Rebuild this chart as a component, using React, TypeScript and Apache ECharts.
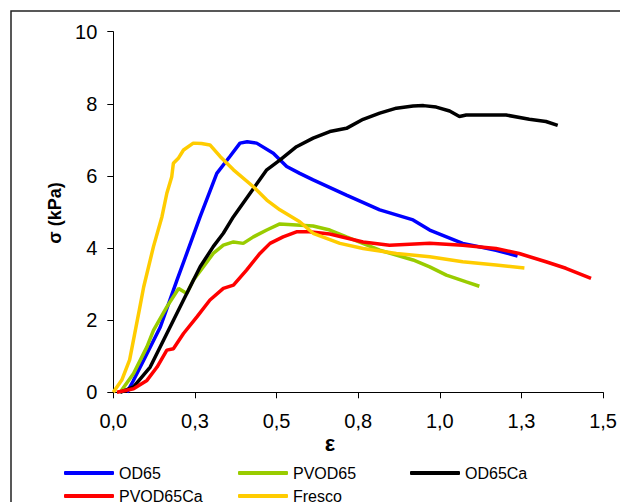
import React, { useEffect, useRef } from "react";
import * as echarts from "echarts";

// Stress–strain curves: strain (ε, dimensionless) vs stress (σ, kPa)
const od65Strain = [0.042, 0.06, 0.093, 0.144, 0.195, 0.225, 0.266, 0.317, 0.357, 0.388, 0.41, 0.439, 0.49, 0.531, 0.571, 0.612, 0.714, 0.816, 0.918, 0.969, 1.07, 1.172, 1.238];
const od65Stress = [0, 0.3, 0.89, 1.81, 3.11, 3.85, 4.87, 6.07, 6.54, 6.91, 6.95, 6.91, 6.63, 6.26, 6.07, 5.89, 5.47, 5.06, 4.78, 4.5, 4.13, 3.94, 3.78];

const pvod65Strain = [0.021, 0.062, 0.103, 0.123, 0.164, 0.2, 0.225, 0.245, 0.276, 0.306, 0.337, 0.368, 0.398, 0.429, 0.47, 0.51, 0.561, 0.612, 0.663, 0.714, 0.816, 0.918, 0.969, 1.02, 1.081, 1.121];
const pvod65Stress = [0, 0.52, 1.26, 1.72, 2.37, 2.88, 2.74, 3.11, 3.48, 3.85, 4.08, 4.17, 4.13, 4.31, 4.5, 4.67, 4.64, 4.61, 4.5, 4.31, 3.94, 3.67, 3.48, 3.25, 3.06, 2.94];

const od65caStrain = [0.021, 0.062, 0.113, 0.164, 0.215, 0.266, 0.306, 0.337, 0.368, 0.419, 0.47, 0.51, 0.561, 0.612, 0.663, 0.714, 0.765, 0.816, 0.867, 0.918, 0.95, 0.989, 1.03, 1.06, 1.081, 1.203, 1.274, 1.325, 1.361];
const od65caStress = [0, 0.15, 0.7, 1.63, 2.56, 3.48, 4.04, 4.41, 4.87, 5.52, 6.17, 6.44, 6.81, 7.05, 7.23, 7.32, 7.57, 7.74, 7.88, 7.94, 7.95, 7.91, 7.8, 7.65, 7.69, 7.69, 7.57, 7.51, 7.4];

const pvod65caStrain = [0.011, 0.062, 0.103, 0.134, 0.164, 0.184, 0.215, 0.256, 0.296, 0.337, 0.368, 0.408, 0.449, 0.48, 0.52, 0.561, 0.6, 0.663, 0.765, 0.846, 0.969, 1.07, 1.172, 1.243, 1.325, 1.386, 1.463];
const pvod65caStress = [0, 0.1, 0.33, 0.7, 1.17, 1.21, 1.63, 2.09, 2.56, 2.88, 2.97, 3.39, 3.85, 4.13, 4.31, 4.45, 4.45, 4.39, 4.17, 4.08, 4.13, 4.08, 3.99, 3.85, 3.62, 3.44, 3.16];

const frescoStrain = [0, 0.026, 0.05, 0.065, 0.08, 0.093, 0.123, 0.149, 0.164, 0.179, 0.184, 0.2, 0.215, 0.245, 0.27, 0.296, 0.327, 0.368, 0.429, 0.47, 0.51, 0.571, 0.612, 0.694, 0.765, 0.867, 0.969, 1.07, 1.172, 1.259];
const frescoStress = [0, 0.34, 0.9, 1.6, 2.3, 2.92, 4.04, 4.87, 5.52, 5.98, 6.35, 6.5, 6.72, 6.91, 6.9, 6.86, 6.54, 6.17, 5.7, 5.33, 5.06, 4.73, 4.41, 4.13, 3.99, 3.85, 3.76, 3.62, 3.53, 3.45];

const seriesNames = ["OD65", "PVOD65", "OD65Ca", "PVOD65Ca", "Fresco"];
const seriesColors = ["#0000FF", "#99CC00", "#000000", "#FF0000", "#FFCC00"];
const seriesStrain = [od65Strain, pvod65Strain, od65caStrain, pvod65caStrain, frescoStrain];
const seriesStress = [od65Stress, pvod65Stress, od65caStress, pvod65caStress, frescoStress];

const FONT = 'Arial, "Liberation Sans", sans-serif';

export default function App() {
  const ref = useRef<HTMLDivElement>(null);

  useEffect(() => {
    if (!ref.current) return;
    const chart = echarts.init(ref.current, null, { renderer: "svg" });

    const series = seriesNames.map((name, i) => ({
      name,
      type: "line",
      data: seriesStrain[i].map((x, k) => [x, seriesStress[i][k]]),
      showSymbol: false,
      symbol: "none",
      lineStyle: { color: seriesColors[i], width: 3.5 },
      itemStyle: { color: seriesColors[i] },
      z: 2,
    }));

    // legend entries laid out in three columns, two rows
    const legendPos = [
      { left: 64, top: 465 },
      { left: 238, top: 465 },
      { left: 410, top: 465 },
      { left: 64, top: 488 },
      { left: 238, top: 488 },
    ];
    const legend = seriesNames.map((name, i) => ({
      data: [name],
      left: legendPos[i].left,
      top: legendPos[i].top,
      padding: 0,
      icon: "roundRect",
      itemWidth: 50,
      itemHeight: 4,
      selectedMode: false,
      textStyle: { fontFamily: FONT, fontSize: 16, color: "#000" },
    }));

    chart.setOption({
      animation: false,
      backgroundColor: "#fff",
      grid: { left: 113.3, right: 16, top: 31.7, bottom: 109.7 },
      legend,
      xAxis: {
        type: "value",
        min: 0,
        max: 1.5,
        interval: 0.25,
        axisLine: { show: true, lineStyle: { color: "#000", width: 1 } },
        axisTick: { show: true, inside: false, length: 6, lineStyle: { color: "#000" } },
        splitLine: { show: false },
        axisLabel: {
          margin: 19,
          fontFamily: FONT,
          fontSize: 20,
          color: "#000",
          formatter: (v: number) => (Math.round(v * 10) / 10).toFixed(1).replace(".", ","),
        },
      },
      yAxis: {
        type: "value",
        min: 0,
        max: 10,
        interval: 2,
        axisLine: { show: true, lineStyle: { color: "#000", width: 1 } },
        axisTick: { show: true, inside: false, length: 6, lineStyle: { color: "#000" } },
        splitLine: { show: false },
        axisLabel: { margin: 16, fontFamily: FONT, fontSize: 20, color: "#000" },
      },
      graphic: [
        {
          type: "rect",
          shape: { x: 11, y: 11, width: 700, height: 600 },
          style: { fill: "none", stroke: "#222", lineWidth: 1.5 },
          silent: true,
        },
        {
          type: "text",
          x: 330,
          y: 443,
          style: {
            text: "ε",
            font: `bold 22px ${FONT}`,
            fill: "#000",
            align: "center",
            verticalAlign: "middle",
          },
        },
        {
          type: "text",
          x: 55,
          y: 213,
          rotation: Math.PI / 2,
          style: {
            text: "σ (kPa)",
            font: `bold 18px ${FONT}`,
            fill: "#000",
            align: "center",
            verticalAlign: "middle",
          },
        },
      ],
      series,
    });

    return () => chart.dispose();
  }, []);

  return (
    <div
      ref={ref}
      style={{ position: "fixed", left: 0, top: 0, width: 620, height: 502 }}
    />
  );
}
